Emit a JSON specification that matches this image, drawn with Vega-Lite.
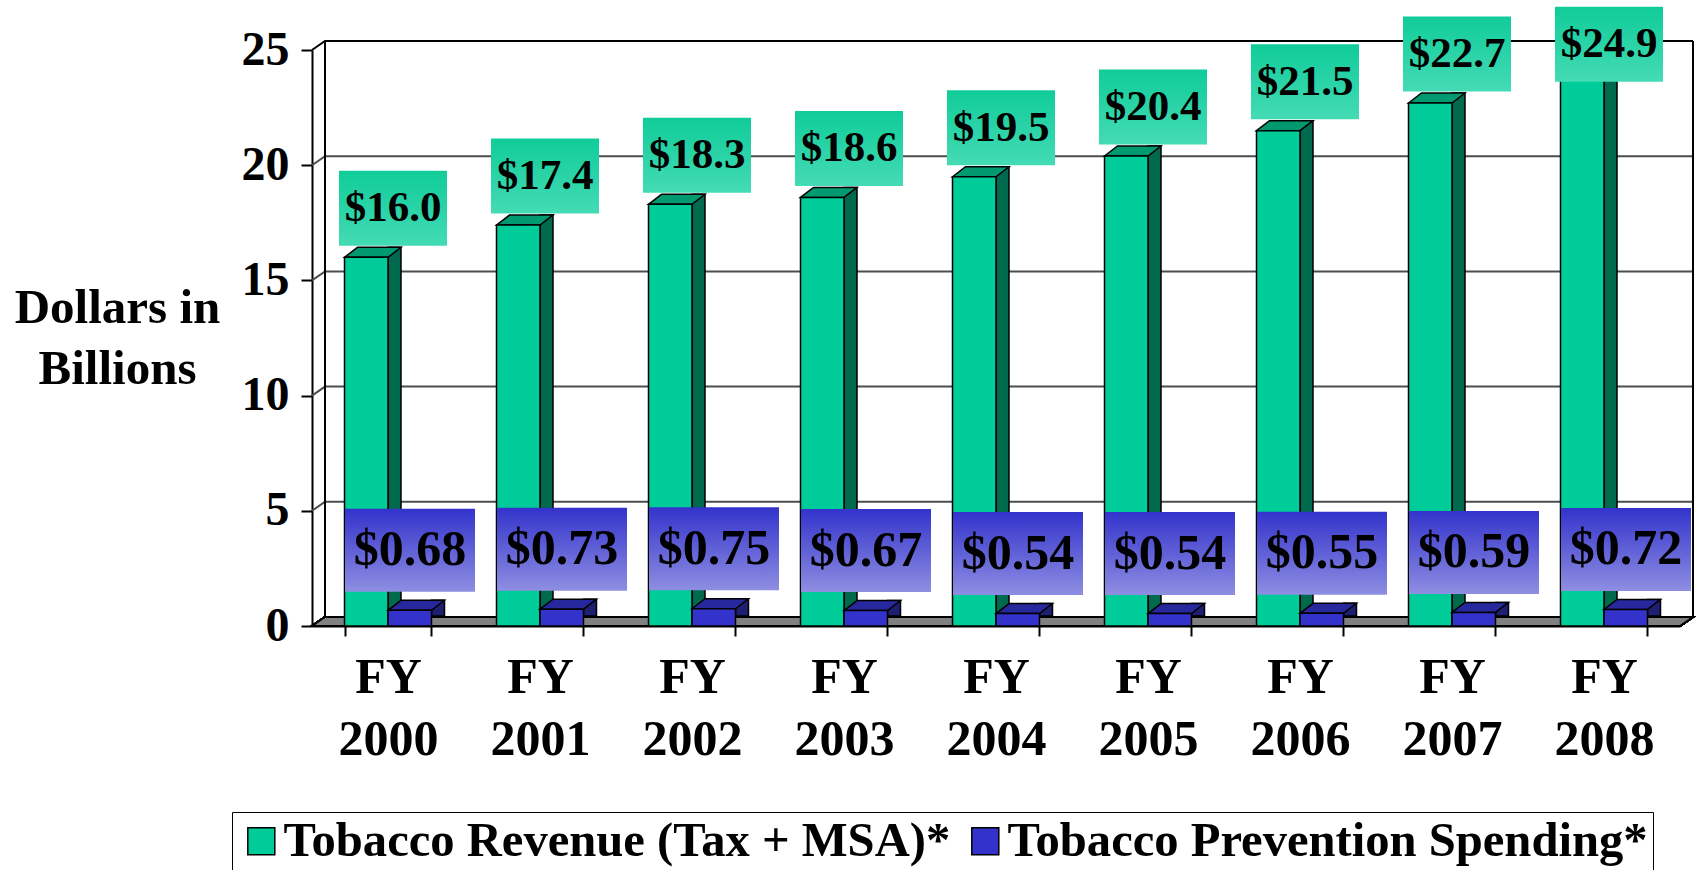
{
  "$schema": "https://vega.github.io/schema/vega-lite/v6.json",
  "width": 1368,
  "height": 576,
  "autosize": {"type": "none"},
  "padding": {"left": 312, "top": 50, "right": 18, "bottom": 244},
  "background": "white",
  "config": {
    "view": {"stroke": null},
    "font": "Liberation Serif",
    "axis": {"labelFont": "Liberation Serif", "labelFontWeight": "bold", "labelColor": "black", "titleFont": "Liberation Serif", "tickColor": "black", "tickWidth": 2, "domainColor": "black", "domainWidth": 2, "grid": false, "labelOverlap": false, "labelLimit": 1000, "titleLimit": 1000}
  },
  "data": {
    "values": [
      {"year": "FY 2000", "series": "Tobacco Revenue (Tax + MSA)*", "value": 16.0},
      {"year": "FY 2001", "series": "Tobacco Revenue (Tax + MSA)*", "value": 17.4},
      {"year": "FY 2002", "series": "Tobacco Revenue (Tax + MSA)*", "value": 18.3},
      {"year": "FY 2003", "series": "Tobacco Revenue (Tax + MSA)*", "value": 18.6},
      {"year": "FY 2004", "series": "Tobacco Revenue (Tax + MSA)*", "value": 19.5},
      {"year": "FY 2005", "series": "Tobacco Revenue (Tax + MSA)*", "value": 20.4},
      {"year": "FY 2006", "series": "Tobacco Revenue (Tax + MSA)*", "value": 21.5},
      {"year": "FY 2007", "series": "Tobacco Revenue (Tax + MSA)*", "value": 22.7},
      {"year": "FY 2008", "series": "Tobacco Revenue (Tax + MSA)*", "value": 24.9},
      {"year": "FY 2000", "series": "Tobacco Prevention Spending*", "value": 0.68},
      {"year": "FY 2001", "series": "Tobacco Prevention Spending*", "value": 0.73},
      {"year": "FY 2002", "series": "Tobacco Prevention Spending*", "value": 0.75},
      {"year": "FY 2003", "series": "Tobacco Prevention Spending*", "value": 0.67},
      {"year": "FY 2004", "series": "Tobacco Prevention Spending*", "value": 0.54},
      {"year": "FY 2005", "series": "Tobacco Prevention Spending*", "value": 0.54},
      {"year": "FY 2006", "series": "Tobacco Prevention Spending*", "value": 0.55},
      {"year": "FY 2007", "series": "Tobacco Prevention Spending*", "value": 0.59},
      {"year": "FY 2008", "series": "Tobacco Prevention Spending*", "value": 0.72}
    ]
  },
  "layer": [
    {
      "data": {"values": [{"value": 0}, {"value": 5}, {"value": 10}, {"value": 15}, {"value": 20}, {"value": 25}]},
      "mark": {"type": "point", "shape": "M -0.684 0 L -0.671 -0.009 L 0.697 -0.009", "size": 4000000, "filled": false, "opacity": 1, "strokeWidth": 2, "stroke": {"expr": "datum.value == 25 ? '#000000' : '#4d4d4d'"}},
      "encoding": {
        "y": {"field": "value", "type": "quantitative", "scale": {"domain": [0, 25], "nice": false},
          "axis": {"values": [0, 5, 10, 15, 20, 25], "title": ["Dollars in", "Billions"], "titleAngle": 0, "titleAlign": "center", "titleBaseline": "alphabetic", "titleX": -195, "titleY": 272, "titleFontSize": 49, "titleFontWeight": "bold", "titleColor": "black", "titleLineHeight": 61, "labelFontSize": 48, "labelPadding": 12, "tickSize": 11}}
      }
    },
    {
      "mark": {"type": "point", "shape": "M -0.684 0 L -0.671 -0.009 L 0.697 -0.009 L 0.684 0 Z M -0.671 -0.009 L -0.671 -0.585 M 0.697 -0.009 L 0.697 -0.585", "size": 4000000, "filled": true, "opacity": 1, "fill": "#808080", "stroke": "black", "strokeWidth": 2},
      "encoding": {"y": {"datum": 0, "type": "quantitative", "scale": {"domain": [0, 25], "nice": false},
          "axis": {"values": [0, 5, 10, 15, 20, 25], "title": ["Dollars in", "Billions"], "titleAngle": 0, "titleAlign": "center", "titleBaseline": "alphabetic", "titleX": -195, "titleY": 272, "titleFontSize": 49, "titleFontWeight": "bold", "titleColor": "black", "titleLineHeight": 61, "labelFontSize": 48, "labelPadding": 12, "tickSize": 11}}}
    },
    {
      "transform": [{"filter": {"field": "series", "equal": "Tobacco Revenue (Tax + MSA)*"}}],
      "mark": {"type": "bar", "width": 13, "xOffset": 6.5, "yOffset": -10, "y2Offset": -4, "fill": "#006A4E", "stroke": "black", "strokeWidth": 1.5},
      "encoding": {
        "x": {"field": "year", "type": "nominal", "scale": {"paddingInner": 0.428, "paddingOuter": 0.214},
          "axis": {"title": null, "labelAngle": 0, "labelExpr": "split(datum.label, ' ')", "labelFontSize": 50, "labelLineHeight": 62, "labelPadding": 16, "tickSize": 10, "tickBand": "extent"}},
        "y": {"field": "value", "type": "quantitative", "scale": {"domain": [0, 25], "nice": false},
          "axis": {"values": [0, 5, 10, 15, 20, 25], "title": ["Dollars in", "Billions"], "titleAngle": 0, "titleAlign": "center", "titleBaseline": "alphabetic", "titleX": -195, "titleY": 272, "titleFontSize": 49, "titleFontWeight": "bold", "titleColor": "black", "titleLineHeight": 61, "labelFontSize": 48, "labelPadding": 12, "tickSize": 11}}
      }
    },
    {
      "transform": [{"filter": {"field": "series", "equal": "Tobacco Revenue (Tax + MSA)*"}}],
      "mark": {"type": "point", "shape": "M -0.435 0 L -0.175 -0.2 L 0.695 -0.2 L 0.435 0 Z", "size": 10000, "filled": true, "fill": "#009970", "stroke": "black", "strokeWidth": 1.5, "opacity": 1, "xOffset": -21.75},
      "encoding": {
        "x": {"field": "year", "type": "nominal", "scale": {"paddingInner": 0.428, "paddingOuter": 0.214},
          "axis": {"title": null, "labelAngle": 0, "labelExpr": "split(datum.label, ' ')", "labelFontSize": 50, "labelLineHeight": 62, "labelPadding": 16, "tickSize": 10, "tickBand": "extent"}},
        "y": {"field": "value", "type": "quantitative", "scale": {"domain": [0, 25], "nice": false},
          "axis": {"values": [0, 5, 10, 15, 20, 25], "title": ["Dollars in", "Billions"], "titleAngle": 0, "titleAlign": "center", "titleBaseline": "alphabetic", "titleX": -195, "titleY": 272, "titleFontSize": 49, "titleFontWeight": "bold", "titleColor": "black", "titleLineHeight": 61, "labelFontSize": 48, "labelPadding": 12, "tickSize": 11}}
      }
    },
    {
      "transform": [{"filter": {"field": "series", "equal": "Tobacco Revenue (Tax + MSA)*"}}],
      "mark": {"type": "bar", "width": 43.5, "xOffset": -21.75, "stroke": "black", "strokeWidth": 1.5},
      "encoding": {
        "x": {"field": "year", "type": "nominal", "scale": {"paddingInner": 0.428, "paddingOuter": 0.214},
          "axis": {"title": null, "labelAngle": 0, "labelExpr": "split(datum.label, ' ')", "labelFontSize": 50, "labelLineHeight": 62, "labelPadding": 16, "tickSize": 10, "tickBand": "extent"}},
        "y": {"field": "value", "type": "quantitative", "scale": {"domain": [0, 25], "nice": false},
          "axis": {"values": [0, 5, 10, 15, 20, 25], "title": ["Dollars in", "Billions"], "titleAngle": 0, "titleAlign": "center", "titleBaseline": "alphabetic", "titleX": -195, "titleY": 272, "titleFontSize": 49, "titleFontWeight": "bold", "titleColor": "black", "titleLineHeight": 61, "labelFontSize": 48, "labelPadding": 12, "tickSize": 11}},
        "color": {"field": "series", "type": "nominal",
          "scale": {"domain": ["Tobacco Revenue (Tax + MSA)*", "Tobacco Prevention Spending*"], "range": ["#00CC99", "#3333CC"]},
          "legend": {"orient": "none", "legendX": -80, "legendY": 762, "direction": "horizontal", "title": null, "labelFont": "Liberation Serif", "labelFontSize": 48.6, "labelFontWeight": "bold", "labelColor": "black", "labelLimit": 1000, "symbolType": "M -1 -1 H 1 V 1 H -1 Z", "symbolSize": 729, "symbolStrokeColor": "black", "symbolStrokeWidth": 1.5, "symbolOpacity": 1, "labelOffset": -2, "columnPadding": 10, "padding": 5, "strokeColor": "black", "fillColor": "white"}}
      }
    },
    {
      "transform": [{"filter": {"field": "series", "equal": "Tobacco Prevention Spending*"}}],
      "mark": {"type": "bar", "width": 13, "xOffset": 50, "yOffset": -10, "y2Offset": -4, "fill": "#1F1F70", "stroke": "black", "strokeWidth": 1.5},
      "encoding": {
        "x": {"field": "year", "type": "nominal", "scale": {"paddingInner": 0.428, "paddingOuter": 0.214},
          "axis": {"title": null, "labelAngle": 0, "labelExpr": "split(datum.label, ' ')", "labelFontSize": 50, "labelLineHeight": 62, "labelPadding": 16, "tickSize": 10, "tickBand": "extent"}},
        "y": {"field": "value", "type": "quantitative", "scale": {"domain": [0, 25], "nice": false},
          "axis": {"values": [0, 5, 10, 15, 20, 25], "title": ["Dollars in", "Billions"], "titleAngle": 0, "titleAlign": "center", "titleBaseline": "alphabetic", "titleX": -195, "titleY": 272, "titleFontSize": 49, "titleFontWeight": "bold", "titleColor": "black", "titleLineHeight": 61, "labelFontSize": 48, "labelPadding": 12, "tickSize": 11}}
      }
    },
    {
      "transform": [{"filter": {"field": "series", "equal": "Tobacco Prevention Spending*"}}],
      "mark": {"type": "point", "shape": "M -0.435 0 L -0.175 -0.2 L 0.695 -0.2 L 0.435 0 Z", "size": 10000, "filled": true, "fill": "#28289E", "stroke": "black", "strokeWidth": 1.5, "opacity": 1, "xOffset": 21.75},
      "encoding": {
        "x": {"field": "year", "type": "nominal", "scale": {"paddingInner": 0.428, "paddingOuter": 0.214},
          "axis": {"title": null, "labelAngle": 0, "labelExpr": "split(datum.label, ' ')", "labelFontSize": 50, "labelLineHeight": 62, "labelPadding": 16, "tickSize": 10, "tickBand": "extent"}},
        "y": {"field": "value", "type": "quantitative", "scale": {"domain": [0, 25], "nice": false},
          "axis": {"values": [0, 5, 10, 15, 20, 25], "title": ["Dollars in", "Billions"], "titleAngle": 0, "titleAlign": "center", "titleBaseline": "alphabetic", "titleX": -195, "titleY": 272, "titleFontSize": 49, "titleFontWeight": "bold", "titleColor": "black", "titleLineHeight": 61, "labelFontSize": 48, "labelPadding": 12, "tickSize": 11}}
      }
    },
    {
      "transform": [{"filter": {"field": "series", "equal": "Tobacco Prevention Spending*"}}],
      "mark": {"type": "bar", "width": 43.5, "xOffset": 21.75, "stroke": "black", "strokeWidth": 1.5},
      "encoding": {
        "x": {"field": "year", "type": "nominal", "scale": {"paddingInner": 0.428, "paddingOuter": 0.214},
          "axis": {"title": null, "labelAngle": 0, "labelExpr": "split(datum.label, ' ')", "labelFontSize": 50, "labelLineHeight": 62, "labelPadding": 16, "tickSize": 10, "tickBand": "extent"}},
        "y": {"field": "value", "type": "quantitative", "scale": {"domain": [0, 25], "nice": false},
          "axis": {"values": [0, 5, 10, 15, 20, 25], "title": ["Dollars in", "Billions"], "titleAngle": 0, "titleAlign": "center", "titleBaseline": "alphabetic", "titleX": -195, "titleY": 272, "titleFontSize": 49, "titleFontWeight": "bold", "titleColor": "black", "titleLineHeight": 61, "labelFontSize": 48, "labelPadding": 12, "tickSize": 11}},
        "color": {"field": "series", "type": "nominal",
          "scale": {"domain": ["Tobacco Revenue (Tax + MSA)*", "Tobacco Prevention Spending*"], "range": ["#00CC99", "#3333CC"]},
          "legend": {"orient": "none", "legendX": -80, "legendY": 762, "direction": "horizontal", "title": null, "labelFont": "Liberation Serif", "labelFontSize": 48.6, "labelFontWeight": "bold", "labelColor": "black", "labelLimit": 1000, "symbolType": "M -1 -1 H 1 V 1 H -1 Z", "symbolSize": 729, "symbolStrokeColor": "black", "symbolStrokeWidth": 1.5, "symbolOpacity": 1, "labelOffset": -2, "columnPadding": 10, "padding": 5, "strokeColor": "black", "fillColor": "white"}}
      }
    },
    {
      "transform": [{"filter": {"field": "series", "equal": "Tobacco Revenue (Tax + MSA)*"}}],
      "mark": {"type": "point", "shape": "M -1.08 -0.75 L 1.08 -0.75 L 1.08 0.75 L -1.08 0.75 Z", "size": 10000, "filled": true, "opacity": 1, "strokeWidth": 0, "xOffset": 5, "yOffset": {"expr": "datum.value > 24 ? -8 : -49"},
        "fill": {"gradient": "linear", "x1": 0, "y1": 0, "x2": 0, "y2": 1, "stops": [{"offset": 0, "color": "#10CC99"}, {"offset": 1, "color": "#44DBB5"}]}},
      "encoding": {
        "x": {"field": "year", "type": "nominal", "scale": {"paddingInner": 0.428, "paddingOuter": 0.214},
          "axis": {"title": null, "labelAngle": 0, "labelExpr": "split(datum.label, ' ')", "labelFontSize": 50, "labelLineHeight": 62, "labelPadding": 16, "tickSize": 10, "tickBand": "extent"}},
        "y": {"field": "value", "type": "quantitative", "scale": {"domain": [0, 25], "nice": false},
          "axis": {"values": [0, 5, 10, 15, 20, 25], "title": ["Dollars in", "Billions"], "titleAngle": 0, "titleAlign": "center", "titleBaseline": "alphabetic", "titleX": -195, "titleY": 272, "titleFontSize": 49, "titleFontWeight": "bold", "titleColor": "black", "titleLineHeight": 61, "labelFontSize": 48, "labelPadding": 12, "tickSize": 11}}
      }
    },
    {
      "transform": [{"filter": {"field": "series", "equal": "Tobacco Revenue (Tax + MSA)*"}}],
      "mark": {"type": "text", "fontSize": 43, "fontWeight": "bold", "color": "black", "align": "center", "baseline": "middle", "xOffset": 5, "yOffset": {"expr": "datum.value > 24 ? -8 : -49"}},
      "encoding": {
        "x": {"field": "year", "type": "nominal", "scale": {"paddingInner": 0.428, "paddingOuter": 0.214},
          "axis": {"title": null, "labelAngle": 0, "labelExpr": "split(datum.label, ' ')", "labelFontSize": 50, "labelLineHeight": 62, "labelPadding": 16, "tickSize": 10, "tickBand": "extent"}},
        "y": {"field": "value", "type": "quantitative", "scale": {"domain": [0, 25], "nice": false},
          "axis": {"values": [0, 5, 10, 15, 20, 25], "title": ["Dollars in", "Billions"], "titleAngle": 0, "titleAlign": "center", "titleBaseline": "alphabetic", "titleX": -195, "titleY": 272, "titleFontSize": 49, "titleFontWeight": "bold", "titleColor": "black", "titleLineHeight": 61, "labelFontSize": 48, "labelPadding": 12, "tickSize": 11}},
        "text": {"field": "value", "type": "quantitative", "format": "$.1f"}
      }
    },
    {
      "transform": [{"filter": {"field": "series", "equal": "Tobacco Prevention Spending*"}}],
      "mark": {"type": "point", "shape": "M -1.3 -0.83 L 1.3 -0.83 L 1.3 0.83 L -1.3 0.83 Z", "size": 10000, "filled": true, "opacity": 1, "strokeWidth": 0, "xOffset": 22, "yOffset": -60,
        "fill": {"gradient": "linear", "x1": 0, "y1": 0, "x2": 0, "y2": 1, "stops": [{"offset": 0, "color": "#3333CC"}, {"offset": 1, "color": "#8E8EE2"}]}},
      "encoding": {
        "x": {"field": "year", "type": "nominal", "scale": {"paddingInner": 0.428, "paddingOuter": 0.214},
          "axis": {"title": null, "labelAngle": 0, "labelExpr": "split(datum.label, ' ')", "labelFontSize": 50, "labelLineHeight": 62, "labelPadding": 16, "tickSize": 10, "tickBand": "extent"}},
        "y": {"field": "value", "type": "quantitative", "scale": {"domain": [0, 25], "nice": false},
          "axis": {"values": [0, 5, 10, 15, 20, 25], "title": ["Dollars in", "Billions"], "titleAngle": 0, "titleAlign": "center", "titleBaseline": "alphabetic", "titleX": -195, "titleY": 272, "titleFontSize": 49, "titleFontWeight": "bold", "titleColor": "black", "titleLineHeight": 61, "labelFontSize": 48, "labelPadding": 12, "tickSize": 11}}
      }
    },
    {
      "transform": [{"filter": {"field": "series", "equal": "Tobacco Prevention Spending*"}}],
      "mark": {"type": "text", "fontSize": 50, "fontWeight": "bold", "color": "black", "align": "center", "baseline": "middle", "xOffset": 22, "yOffset": -60},
      "encoding": {
        "x": {"field": "year", "type": "nominal", "scale": {"paddingInner": 0.428, "paddingOuter": 0.214},
          "axis": {"title": null, "labelAngle": 0, "labelExpr": "split(datum.label, ' ')", "labelFontSize": 50, "labelLineHeight": 62, "labelPadding": 16, "tickSize": 10, "tickBand": "extent"}},
        "y": {"field": "value", "type": "quantitative", "scale": {"domain": [0, 25], "nice": false},
          "axis": {"values": [0, 5, 10, 15, 20, 25], "title": ["Dollars in", "Billions"], "titleAngle": 0, "titleAlign": "center", "titleBaseline": "alphabetic", "titleX": -195, "titleY": 272, "titleFontSize": 49, "titleFontWeight": "bold", "titleColor": "black", "titleLineHeight": 61, "labelFontSize": 48, "labelPadding": 12, "tickSize": 11}},
        "text": {"field": "value", "type": "quantitative", "format": "$.2f"}
      }
    }
  ]
}
